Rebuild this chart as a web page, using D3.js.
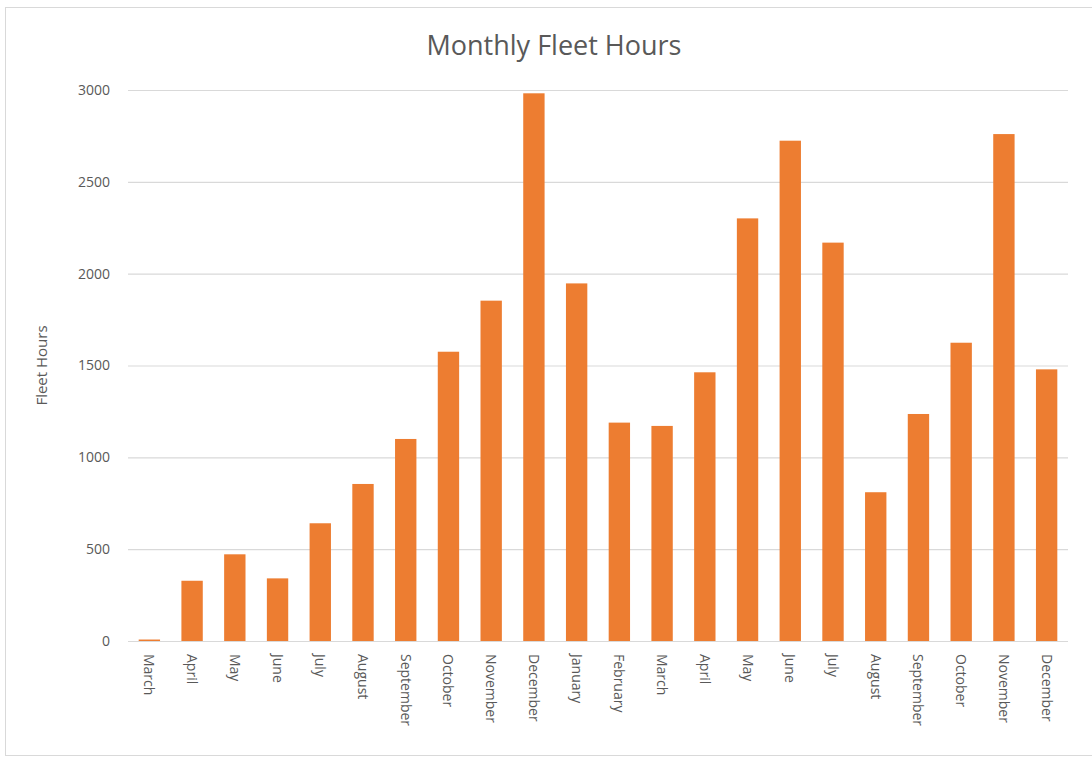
<!DOCTYPE html>
<html>
<head>
<meta charset="utf-8">
<script src="https://cdn.jsdelivr.net/npm/d3@7"></script>
<style>
  body { margin: 0; background: #fff; }
  text { font-family: "Open Sans", "Noto Sans", sans-serif; fill: #595959; }
</style>
</head>
<body>
<div class="chart"></div>
<script>
// months, two years of flying
const months = ["March", "April", "May", "June", "July", "August", "September",
  "October", "November", "December", "January", "February", "March", "April",
  "May", "June", "July", "August", "September", "October", "November", "December"];
const hours = [8, 328, 472, 341, 641, 855, 1100, 1575, 1853, 2982, 1947, 1189,
  1171, 1463, 2301, 2724, 2169, 810, 1236, 1624, 2760, 1479];
const yTicks = [0, 500, 1000, 1500, 2000, 2500, 3000];

const w = 1092;
const h = 757;
const plotLeft = 128;
const plotRight = 1068;
const plotTop = 90;
const plotBottom = 641;

const svg = d3.select(".chart")
  .append("svg")
  .attr("width", w)
  .attr("height", h);

// chart frame
svg.append("rect")
  .attr("x", 5.5).attr("y", 7.5)
  .attr("width", w + 10).attr("height", 748)
  .attr("fill", "#fff")
  .attr("stroke", "#d9d9d9");

const xScale = d3.scaleBand()
  .domain(d3.range(months.length))
  .range([plotLeft, plotRight])
  .paddingInner(0.5)
  .paddingOuter(0.25);

const yScale = d3.scaleLinear()
  .domain([0, 3000])
  .range([plotBottom, plotTop]);

// gridlines + tick labels
const yAxis = d3.axisLeft(yScale)
  .tickValues(yTicks)
  .tickFormat(d3.format("d"))
  .tickSize(-(plotRight - plotLeft))
  .tickPadding(18);

const gy = svg.append("g")
  .attr("transform", `translate(${plotLeft},0)`)
  .call(yAxis);
gy.select(".domain").remove();
gy.selectAll(".tick line").attr("stroke", "#d9d9d9").attr("stroke-width", 1.2);
gy.selectAll(".tick text")
  .attr("fill", "#595959")
  .style("font-size", "14px");

svg.selectAll("rect.bar")
  .data(hours)
  .enter()
  .append("rect")
  .attr("class", "bar")
  .attr("x", (d, i) => xScale(i))
  .attr("width", xScale.bandwidth())
  .attr("y", (d) => yScale(d))
  .attr("height", (d) => plotBottom - yScale(d))
  .attr("fill", "#ED7D31");

// base line
svg.append("line")
  .attr("x1", plotLeft).attr("x2", plotRight)
  .attr("y1", plotBottom + 0.5).attr("y2", plotBottom + 0.5)
  .attr("stroke", "#d9d9d9")
  .attr("stroke-width", 1.2);

// month labels, rotated
svg.selectAll("text.month")
  .data(months)
  .enter()
  .append("text")
  .attr("class", "month")
  .attr("transform", (d, i) => "translate(" + (xScale(i) + xScale.bandwidth() / 2 - 5) + "," + (plotBottom + 13) + ")rotate(90)")
  .attr("text-anchor", "start")
  .style("font-size", "14px")
  .text((d) => d);

svg.append("text")
  .attr("text-anchor", "middle")
  .attr("transform", "translate(47," + ((plotTop + plotBottom) / 2) + ")rotate(-90)")
  .style("font-size", "15px")
  .text("Fleet Hours");

svg.append("text")
  .attr("x", 554)
  .attr("y", 55)
  .attr("text-anchor", "middle")
  .style("font-size", "27px")
  .text("Monthly Fleet Hours");
</script>
</body>
</html>
